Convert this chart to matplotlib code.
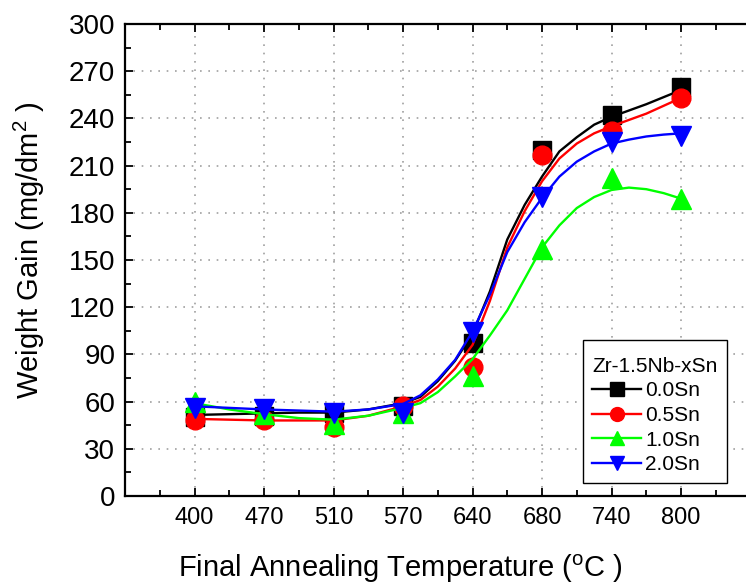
import matplotlib
matplotlib.use("Agg")
import matplotlib.pyplot as plt
from matplotlib.lines import Line2D
from matplotlib.patches import Rectangle

plt.rcParams["font.family"] = ["Liberation Sans", "DejaVu Sans"]
plt.rcParams["mathtext.fontset"] = "custom"
plt.rcParams["mathtext.rm"] = "Liberation Sans"
plt.rcParams["mathtext.it"] = "Liberation Sans:italic"

# categories (equally spaced on the axis)
temps = ["400", "470", "510", "570", "640", "680", "740", "800"]

# measured points
gain_00 = [50, 51, 53, 57, 97, 220, 242, 260]
gain_05 = [48, 48, 44, 57, 82, 217, 232, 253]
gain_10 = [60, 52, 46, 53, 76, 157, 202, 189]
gain_20 = [56, 55, 53, 53, 104, 190, 225, 229]

# fitted curves at these category positions
fit_pos = [0, 0.5, 1, 1.5, 2, 2.5, 3, 3.25, 3.5, 3.75, 4, 4.25, 4.5, 4.75,
           5, 5.25, 5.5, 5.75, 6, 6.25, 6.5, 6.75, 7]
fit_00 = [51.5, 52, 52.5, 53, 53, 55, 59, 63, 73, 86, 103, 130, 163, 185,
          203, 219, 228, 236, 241, 245, 249, 253.5, 258]
fit_05 = [49, 48.5, 48, 48, 48, 51, 57, 61, 69.5, 81, 96, 124, 158, 181,
          200, 214.5, 224, 230.5, 235, 239, 243, 248, 253]
fit_10 = [59, 55, 52, 49.5, 48.5, 51, 56, 59, 66, 76, 87, 102, 118, 138,
          158, 172, 183, 190, 194.5, 196, 195, 192.5, 189]
fit_20 = [57, 56, 55, 54.3, 53.6, 55, 58.5, 64, 74, 86.5, 104.5, 128, 155,
          174, 189.5, 203, 212.5, 219, 224, 226.5, 228.5, 229.7, 230.5]

series = [
    ("0.0Sn", gain_00, fit_00, "#000000", "s", 12.5),
    ("0.5Sn", gain_05, fit_05, "#ff0000", "o", 13.5),
    ("1.0Sn", gain_10, fit_10, "#00ff00", "^", 15),
    ("2.0Sn", gain_20, fit_20, "#0000ff", "v", 15),
]

fig = plt.figure(figsize=(7.46, 5.88), dpi=100)
ax = fig.add_axes([0.1676, 0.1565, 0.9316, 0.8027])

x = list(range(len(temps)))
handles = []
for label, pts, fit, color, marker, ms in series:
    ax.plot(fit_pos, fit, color=color, lw=1.7, zorder=3,
            solid_joinstyle="round")
    ax.plot(x, pts, ls="none", marker=marker, ms=ms, color=color, zorder=3)
    handles.append(Line2D([], [], color=color, lw=1.7, marker=marker, ms=10,
                          label=label))

ax.set_xlim(-1, 9)
ax.set_ylim(0, 300)
ax.set_xticks(x)
ax.set_xticklabels(temps)
ax.set_xticks([i + 0.5 for i in range(-1, 9)], minor=True)
ax.set_yticks(range(0, 301, 30))
ax.set_yticks(range(15, 300, 30), minor=True)

ax.tick_params(axis="both", which="both", direction="in", top=True, width=1.3)
ax.tick_params(axis="both", which="major", length=6)
ax.tick_params(axis="both", which="minor", length=4)
ax.tick_params(axis="y", labelsize=20, pad=7)
ax.tick_params(axis="x", labelsize=17, pad=8)

ax.grid(True, which="major", ls=(0, (1, 4)), color="#a0a0a0", lw=1.2)
ax.set_axisbelow(True)
for sp in ax.spines.values():
    sp.set_linewidth(1.6)

ax.set_ylabel(r"Weight Gain (mg/dm$^{2}$ )", fontsize=21)
ax.yaxis.set_label_coords(-0.112, 0.52)
ax.set_xlabel(r"Final Annealing Temperature ($^{\mathrm{o}}$C )", fontsize=21)
ax.xaxis.set_label_coords(0.396, -0.12)

# legend frame drawn separately so the padding matches the original
ax.add_patch(Rectangle((0.659, 0.0275), 0.207, 0.303, transform=ax.transAxes,
                       facecolor="white", edgecolor="black", lw=1.0,
                       zorder=4))
leg = ax.legend(handles=handles, title="Zr-1.5Nb-xSn", fontsize=15,
                title_fontsize=15, loc="upper left", alignment="left",
                bbox_to_anchor=(0.672, 0.295), frameon=False,
                handlelength=2.35, handletextpad=0.2, labelspacing=0.27,
                borderpad=0, borderaxespad=0)
leg.set_zorder(5)

fig.savefig("out.png", dpi=100)
